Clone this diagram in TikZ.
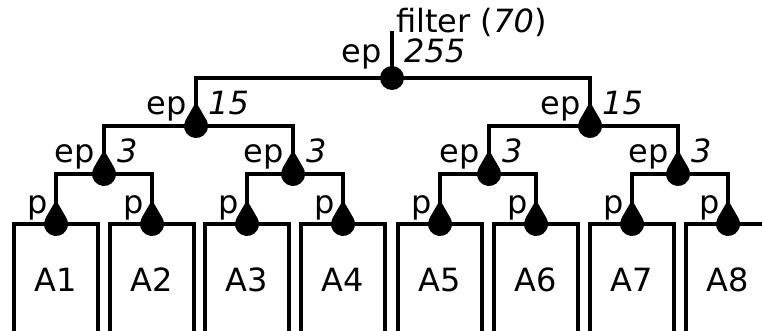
\documentclass[tikz,border=0pt]{standalone}
\usepackage{fontspec}
\setmainfont{DejaVu Sans}
\begin{document}
\begin{tikzpicture}[x=1pt,y=1pt,
  font=\fontsize{32}{37}\selectfont,
  tree/.style={line width=3.7pt},
  box/.style={draw, line width=4.3pt, minimum width=84pt, minimum height=112pt, inner sep=0pt},
  lab/.style={inner sep=0pt},
  droplet/.pic={\fill (0,24) -- (-10.39,6) arc[start angle=150,end angle=390,radius=12] -- cycle;}
]
\useasboundingbox (0,0) rectangle (762,-331);
\clip (0,0) rectangle (762,-331);

% junction points
\coordinate (p1) at (56,-224);
\coordinate (p2) at (152,-224);
\coordinate (p3) at (247,-224);
\coordinate (p4) at (343,-224);
\coordinate (p5) at (440,-224);
\coordinate (p6) at (536,-224);
\coordinate (p7) at (632,-224);
\coordinate (p8) at (728,-224);
\coordinate (q1) at (104,-174);
\coordinate (q2) at (293,-174);
\coordinate (q3) at (489,-174);
\coordinate (q4) at (678,-174);
\coordinate (s1) at (196,-126);
\coordinate (s2) at (590,-126);
\coordinate (r) at (392,-78);
\coordinate (out) at (392,-31);

% boxes
\foreach \i/\x in {1/56,2/152,3/247,4/343,5/440,6/536,7/632,8/728}
  \node[box] (A\i) at (\x,-280) {A\i};

% tree connectors
\draw[tree] (p1) |- (q1) -| (p2);
\draw[tree] (p3) |- (q2) -| (p4);
\draw[tree] (p5) |- (q3) -| (p6);
\draw[tree] (p7) |- (q4) -| (p8);
\draw[tree] (q1) |- (s1) -| (q2);
\draw[tree] (q3) |- (s2) -| (q4);
\draw[tree] (s1) |- (r) -| (s2);
\draw[tree] (r) -- (out);

% junction marks
\foreach \n in {p1,p2,p3,p4,p5,p6,p7,p8,q1,q2,q3,q4,s1,s2}
  \pic at (\n) {droplet};
\fill (r) circle (12);

% labels
\foreach \n in {p1,p2,p3,p4,p5,p6,p7,p8}
  \node[lab, anchor=base east, xshift=-8pt, yshift=11pt] (l\n) at (\n) {p};
\foreach \n in {q1,q2,q3,q4}{
  \node[lab, anchor=base east, xshift=-9pt, yshift=11pt] (l\n) at (\n) {ep};
  \node[lab, anchor=base west, xshift=13pt, yshift=11pt] (w\n) at (\n) {\textit{3}};
}
\foreach \n in {s1,s2}{
  \node[lab, anchor=base east, xshift=-9pt, yshift=11pt] (l\n) at (\n) {ep};
  \node[lab, anchor=base west, xshift=12pt, yshift=11pt] (w\n) at (\n) {\textit{15}};
}
\node[lab, anchor=base east, xshift=-10pt, yshift=15pt] (lr) at (r) {ep};
\node[lab, anchor=base west, xshift=12pt, yshift=15pt] (wr) at (r) {\textit{255}};
\node[lab, anchor=base west, xshift=4pt, yshift=-2pt] (filt) at (out) {filter (\textit{70})};
\end{tikzpicture}
\end{document}
